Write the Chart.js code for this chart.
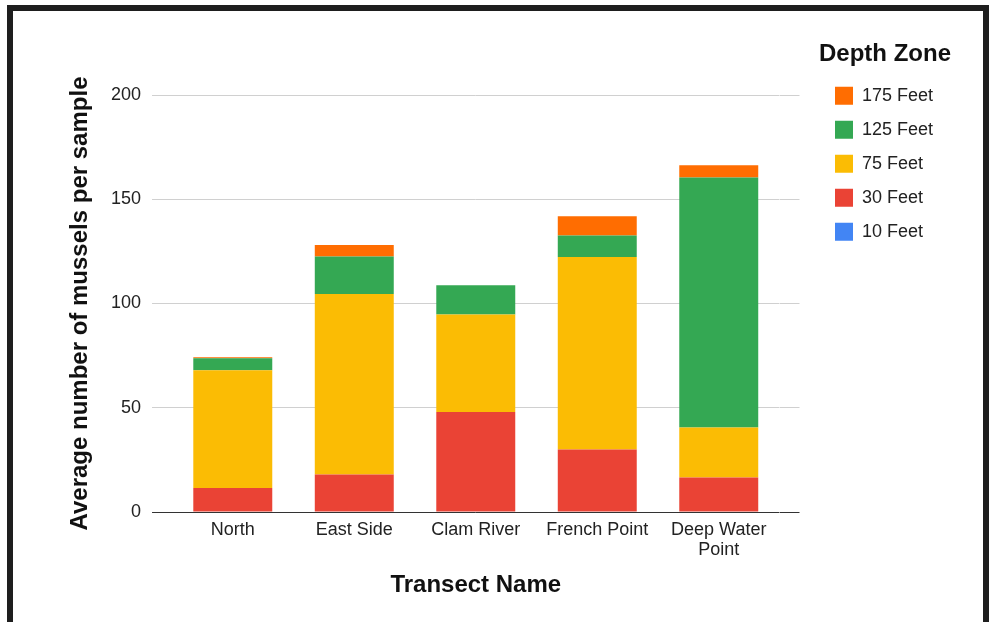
<!DOCTYPE html>
<html lang="en">
<head>
  <meta charset="UTF-8">
  <title>Mussels by depth zone</title>
  <script src="https://cdn.jsdelivr.net/npm/chart.js"></script>
  <style>
    body {
      margin: 0;
      background: #fff;
    }
    .frame {
      position: absolute;
      left: 7px;
      top: 5px;
      width: 982px;
      height: 640px;
      border: 6px solid #1e1e1e;
      box-sizing: border-box;
    }
    #musselChart {
      position: absolute;
      left: 0;
      top: 0;
    }
  </style>
</head>
<body>
  <div class="frame"></div>
  <canvas id="musselChart" width="993" height="622"></canvas>

  <script>
    // values (average mussels per sample)
    const transects = ['North', 'East Side', 'Clam River', 'French Point', ['Deep Water', 'Point']];
    const feet10 = [0, 0, 0, 0, 0];
    const feet30 = [11.5, 18, 48, 30, 16.5];
    const feet75 = [56.5, 86.5, 46.7, 92.3, 24];
    const feet125 = [5.7, 18, 14, 10.3, 119.9];
    const feet175 = [0.5, 5.6, 0, 9.2, 5.9];
    const yTicks = [0, 50, 100, 150, 200];

    const FONT = '"Liberation Sans", Arial, sans-serif';
    const gridColor = ctx => ctx.tick && ctx.tick.value === 0 ? '#333' : '#d0d0d0';

    function series(label, data, color) {
      return {
        label,
        data,
        backgroundColor: color,
        borderWidth: 0,
        barPercentage: 0.65,
        categoryPercentage: 1.0
      };
    }

    // legend box is clipped to its own size, keep it wide enough for the title
    const widerLegend = {
      id: 'widerLegend',
      beforeLayout(chart) {
        const lg = chart.legend;
        if (lg && !lg._wide) {
          const fit = lg.fit;
          lg.fit = function () {
            fit.call(this);
            this.width = Math.max(this.width, 140);
          };
          lg._wide = true;
        }
      }
    };

    new Chart(document.getElementById('musselChart'), {
      type: 'bar',
      data: {
        labels: transects,
        datasets: [
          series('10 Feet', feet10, '#4285f4'),
          series('30 Feet', feet30, '#ea4335'),
          series('75 Feet', feet75, '#fbbc04'),
          series('125 Feet', feet125, '#34a853'),
          series('175 Feet', feet175, '#ff6d01')
        ]
      },
      options: {
        responsive: false,
        animation: false,
        layout: {
          padding: { top: 20, left: 65.6, right: 34, bottom: 22.6 }
        },
        plugins: {
          tooltip: { enabled: false },
          legend: {
            position: 'right',
            align: 'start',
            reverse: true,
            title: {
              display: true,
              text: 'Depth Zone',
              position: 'start',
              color: '#111',
              font: { family: FONT, size: 24, weight: 'bold' },
              padding: { top: 22, bottom: 0 }
            },
            labels: {
              boxWidth: 18,
              boxHeight: 18,
              padding: 16,
              color: '#222',
              font: { family: FONT, size: 18 }
            }
          }
        },
        scales: {
          x: {
            stacked: true,
            grid: { display: false, drawTicks: false },
            border: { display: false },
            ticks: {
              color: '#222',
              padding: 8,
              font: { family: FONT, size: 18, lineHeight: 1.1 }
            },
            title: {
              display: true,
              text: 'Transect Name',
              color: '#111',
              font: { family: FONT, size: 24, weight: 'bold' },
              padding: { top: 3, bottom: 0 }
            }
          },
          xTop: {
            type: 'category',
            position: 'top',
            grid: { display: false, drawTicks: false },
            border: { display: false },
            ticks: { display: false },
            afterFit: s => { s.height = 75; }
          },
          y: {
            stacked: true,
            min: 0,
            max: 200,
            afterBuildTicks: s => { s.ticks = yTicks.map(v => ({ value: v })); },
            grid: { color: gridColor, tickLength: 20 },
            border: { display: false },
            ticks: {
              color: '#222',
              padding: 11,
              font: { family: FONT, size: 18 }
            },
            title: {
              display: true,
              text: 'Average number of mussels per sample',
              color: '#111',
              font: { family: FONT, size: 24, weight: 'bold' },
              padding: { top: 0, bottom: 5.6 }
            }
          },
          y2: {
            position: 'right',
            min: 0,
            max: 200,
            afterBuildTicks: s => { s.ticks = yTicks.map(v => ({ value: v })); },
            grid: { color: gridColor, tickLength: 20, drawOnChartArea: false },
            border: { display: false },
            ticks: { display: false },
            afterFit: s => { s.width = 39.5; }
          }
        }
      },
      plugins: [widerLegend]
    });
  </script>
</body>
</html>
